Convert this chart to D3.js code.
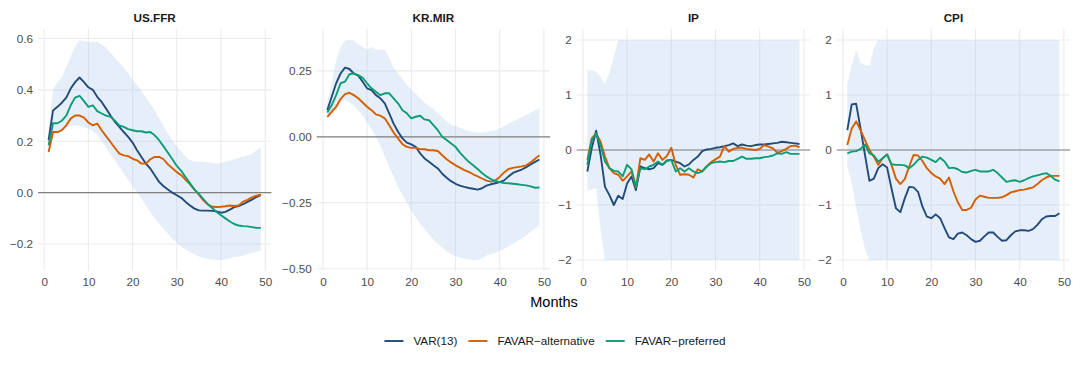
<!DOCTYPE html>
<html>
<head>
<meta charset="utf-8">
<script src="https://cdn.jsdelivr.net/npm/d3@7"></script>
<style>
  body { margin: 0; background: #fff; }
  svg { display: block; font-family: "Liberation Sans", Arial, sans-serif; }
</style>
</head>
<body>
<script>
const months = d3.range(1, 50);
const xTicks = [0, 10, 20, 30, 40, 50];

// US.FFR
const ffrVar = [0.204, 0.32, 0.334, 0.35, 0.37, 0.405, 0.43, 0.448, 0.43, 0.41,
  0.40, 0.373, 0.353, 0.327, 0.30, 0.275, 0.256, 0.236, 0.217, 0.195,
  0.165, 0.139, 0.113, 0.094, 0.068, 0.042, 0.025, 0.012, 0.0, -0.01,
  -0.02, -0.036, -0.05, -0.062, -0.069, -0.07, -0.07, -0.071, -0.073, -0.078,
  -0.075, -0.066, -0.056, -0.052, -0.045, -0.036, -0.027, -0.017, -0.01];
const ffrAlt = [0.158, 0.236, 0.236, 0.243, 0.262, 0.288, 0.30, 0.30, 0.292, 0.273,
  0.262, 0.269, 0.243, 0.22, 0.197, 0.174, 0.152, 0.145, 0.142, 0.132,
  0.126, 0.113, 0.113, 0.13, 0.139, 0.139, 0.13, 0.11, 0.095, 0.08,
  0.068, 0.05, 0.032, 0.012, -0.008, -0.03, -0.045, -0.055, -0.056, -0.055,
  -0.053, -0.05, -0.052, -0.05, -0.035, -0.028, -0.018, -0.012, -0.008];
const ffrPref = [0.184, 0.27, 0.27, 0.28, 0.30, 0.34, 0.37, 0.377, 0.356, 0.334,
  0.34, 0.317, 0.308, 0.30, 0.295, 0.28, 0.262, 0.256, 0.247, 0.243,
  0.239, 0.239, 0.234, 0.236, 0.223, 0.204, 0.18, 0.155, 0.13, 0.104,
  0.085, 0.06, 0.036, 0.012, -0.005, -0.025, -0.045, -0.06, -0.075, -0.088,
  -0.1, -0.112, -0.122, -0.128, -0.13, -0.131, -0.134, -0.137, -0.137];
const ffrHi = [0.25, 0.40, 0.43, 0.45, 0.49, 0.53, 0.57, 0.594, 0.59, 0.587,
  0.587, 0.587, 0.578, 0.565, 0.545, 0.525, 0.505, 0.485, 0.465, 0.44,
  0.42, 0.395, 0.37, 0.345, 0.32, 0.29, 0.26, 0.23, 0.205, 0.18,
  0.16, 0.14, 0.126, 0.122, 0.12, 0.12, 0.118, 0.115, 0.113, 0.115,
  0.12, 0.125, 0.13, 0.135, 0.14, 0.145, 0.15, 0.165, 0.177];
const ffrLo = [0.15, 0.22, 0.23, 0.24, 0.25, 0.26, 0.26, 0.26, 0.255, 0.25,
  0.24, 0.225, 0.2, 0.175, 0.15, 0.125, 0.1, 0.075, 0.05, 0.025,
  0.0, -0.025, -0.05, -0.075, -0.1, -0.12, -0.14, -0.16, -0.18, -0.195,
  -0.21, -0.222, -0.232, -0.24, -0.248, -0.253, -0.257, -0.26, -0.262, -0.262,
  -0.26, -0.255, -0.25, -0.248, -0.245, -0.24, -0.235, -0.23, -0.225];
const ffrTicks = [-0.2, 0, 0.2, 0.4, 0.6];

// KR.MIR
const mirVar = [0.101, 0.152, 0.203, 0.24, 0.262, 0.257, 0.24, 0.232, 0.209, 0.184,
  0.177, 0.158, 0.146, 0.127, 0.089, 0.05, 0.019, -0.006, -0.022, -0.029,
  -0.038, -0.063, -0.082, -0.095, -0.108, -0.12, -0.14, -0.155, -0.168, -0.178,
  -0.185, -0.19, -0.194, -0.197, -0.2, -0.195, -0.185, -0.18, -0.176, -0.172,
  -0.165, -0.15, -0.137, -0.13, -0.124, -0.115, -0.105, -0.095, -0.086];
const mirAlt = [0.076, 0.095, 0.114, 0.143, 0.162, 0.167, 0.158, 0.146, 0.13, 0.114,
  0.101, 0.085, 0.08, 0.07, 0.044, 0.016, -0.006, -0.028, -0.038, -0.042,
  -0.042, -0.047, -0.047, -0.051, -0.051, -0.054, -0.07, -0.085, -0.097, -0.108,
  -0.117, -0.126, -0.133, -0.142, -0.15, -0.158, -0.166, -0.17, -0.166, -0.152,
  -0.135, -0.122, -0.118, -0.115, -0.112, -0.108, -0.097, -0.083, -0.07];
const mirPref = [0.092, 0.12, 0.158, 0.203, 0.209, 0.237, 0.24, 0.234, 0.224, 0.203,
  0.184, 0.171, 0.158, 0.165, 0.165, 0.146, 0.127, 0.101, 0.089, 0.07,
  0.076, 0.08, 0.066, 0.063, 0.044, 0.025, 0.0, -0.012, -0.025, -0.038,
  -0.06, -0.078, -0.095, -0.108, -0.122, -0.137, -0.15, -0.16, -0.167, -0.172,
  -0.175, -0.176, -0.178, -0.18, -0.182, -0.184, -0.188, -0.193, -0.192];
const mirHi = [0.13, 0.21, 0.29, 0.34, 0.365, 0.367, 0.365, 0.352, 0.34, 0.33,
  0.34, 0.33, 0.33, 0.33, 0.3, 0.262, 0.24, 0.218, 0.196, 0.18,
  0.163, 0.146, 0.13, 0.118, 0.105, 0.09, 0.075, 0.058, 0.046, 0.04,
  0.034, 0.028, 0.022, 0.018, 0.015, 0.015, 0.018, 0.021, 0.025, 0.032,
  0.04, 0.05, 0.058, 0.066, 0.075, 0.083, 0.092, 0.1, 0.108];
const mirLo = [0.07, 0.09, 0.1, 0.13, 0.14, 0.13, 0.12, 0.1, 0.08, 0.055,
  0.03, 0.0, -0.035, -0.075, -0.115, -0.15, -0.19, -0.22, -0.25, -0.28,
  -0.305, -0.33, -0.35, -0.37, -0.39, -0.405, -0.42, -0.435, -0.445, -0.452,
  -0.458, -0.462, -0.465, -0.467, -0.467, -0.46, -0.45, -0.445, -0.44, -0.432,
  -0.425, -0.415, -0.405, -0.395, -0.385, -0.375, -0.36, -0.348, -0.335];
const mirTicks = [-0.5, -0.25, 0, 0.25];

// IP
const ipVar = [-0.39, 0.03, 0.35, -0.09, -0.67, -0.82, -1.0, -0.83, -0.89, -0.61,
  -0.48, -0.73, -0.3, -0.33, -0.35, -0.33, -0.24, -0.27, -0.19, -0.18,
  -0.21, -0.24, -0.3, -0.26, -0.18, -0.12, -0.02, 0.01, 0.02, 0.04,
  0.05, 0.07, 0.09, 0.12, 0.07, 0.1, 0.08, 0.07, 0.09, 0.1,
  0.1, 0.11, 0.12, 0.13, 0.15, 0.14, 0.13, 0.12, 0.11];
const ipAlt = [-0.18, 0.21, 0.3, 0.15, -0.12, -0.33, -0.42, -0.45, -0.56, -0.48,
  -0.39, -0.68, -0.15, -0.18, -0.08, -0.21, -0.06, -0.18, -0.11, 0.04,
  -0.27, -0.45, -0.44, -0.45, -0.5, -0.35, -0.39, -0.3, -0.22, -0.17,
  -0.12, 0.07, -0.03, 0.02, 0.04, 0.04, 0.02, 0.01, 0.0, 0.02,
  0.09, 0.06, 0.03, -0.05, -0.02, 0.02, 0.07, 0.08, 0.05];
const ipPref = [-0.27, 0.18, 0.3, 0.09, -0.21, -0.33, -0.38, -0.39, -0.48, -0.27,
  -0.35, -0.67, -0.33, -0.35, -0.3, -0.27, -0.21, -0.27, -0.2, -0.18,
  -0.39, -0.33, -0.39, -0.33, -0.39, -0.42, -0.39, -0.3, -0.24, -0.22,
  -0.21, -0.22, -0.2, -0.2, -0.16, -0.12, -0.16, -0.16, -0.15, -0.15,
  -0.13, -0.12, -0.1, -0.06, -0.07, -0.04, -0.07, -0.07, -0.07];
const ipHi = [1.45, 1.45, 1.42, 1.33, 1.2, 1.4, 1.7, 2, 2, 2,
  2, 2, 2, 2, 2, 2, 2, 2, 2, 2,
  2, 2, 2, 2, 2, 2, 2, 2, 2, 2,
  2, 2, 2, 2, 2, 2, 2, 2, 2, 2,
  2, 2, 2, 2, 2, 2, 2, 2, 2];
const ipLo = [-0.73, -0.72, -0.7, -1.45, -2, -2, -2, -2, -2, -2,
  -2, -2, -2, -2, -2, -2, -2, -2, -2, -2,
  -2, -2, -2, -2, -2, -2, -2, -2, -2, -2,
  -2, -2, -2, -2, -2, -2, -2, -2, -2, -2,
  -2, -2, -2, -2, -2, -2, -2, -2, -2];
const ipTicks = [-2, -1, 0, 1, 2];

// CPI
const cpiVar = [0.36, 0.83, 0.84, 0.39, -0.09, -0.56, -0.52, -0.33, -0.26, -0.32,
  -0.7, -1.06, -1.13, -0.88, -0.67, -0.68, -0.76, -1.03, -1.21, -1.24,
  -1.17, -1.24, -1.42, -1.59, -1.62, -1.52, -1.5, -1.55, -1.62, -1.67,
  -1.65, -1.57, -1.5, -1.5, -1.58, -1.65, -1.64, -1.55, -1.48, -1.46,
  -1.46, -1.47, -1.44, -1.36, -1.26, -1.21, -1.2, -1.2, -1.15];
const cpiAlt = [0.09, 0.39, 0.52, 0.36, 0.18, 0.0, -0.12, -0.27, -0.15, -0.08,
  -0.27, -0.52, -0.62, -0.53, -0.3, -0.09, -0.1, -0.2, -0.33, -0.42,
  -0.48, -0.52, -0.62, -0.5, -0.75, -0.95, -1.09, -1.09, -1.05, -0.9,
  -0.83, -0.85, -0.87, -0.87, -0.87, -0.86, -0.82, -0.77, -0.75, -0.73,
  -0.72, -0.7, -0.68, -0.62, -0.55, -0.5, -0.47, -0.47, -0.47];
const cpiPref = [-0.06, -0.03, -0.02, 0.02, 0.1, -0.06, -0.1, -0.21, -0.15, -0.08,
  -0.26, -0.27, -0.27, -0.28, -0.33, -0.27, -0.18, -0.12, -0.14, -0.18,
  -0.22, -0.14, -0.21, -0.33, -0.32, -0.35, -0.4, -0.41, -0.38, -0.36,
  -0.39, -0.39, -0.39, -0.36, -0.42, -0.5, -0.58, -0.56, -0.55, -0.58,
  -0.55, -0.51, -0.48, -0.46, -0.44, -0.42, -0.47, -0.54, -0.57];
const cpiHi = [1.2, 1.55, 1.82, 1.58, 1.55, 1.53, 1.85, 2, 2, 2,
  2, 2, 2, 2, 2, 2, 2, 2, 2, 2,
  2, 2, 2, 2, 2, 2, 2, 2, 2, 2,
  2, 2, 2, 2, 2, 2, 2, 2, 2, 2,
  2, 2, 2, 2, 2, 2, 2, 2, 2];
const cpiLo = [-0.3, -0.6, -1.05, -1.45, -1.8, -2, -2, -2, -2, -2,
  -2, -2, -2, -2, -2, -2, -2, -2, -2, -2,
  -2, -2, -2, -2, -2, -2, -2, -2, -2, -2,
  -2, -2, -2, -2, -2, -2, -2, -2, -2, -2,
  -2, -2, -2, -2, -2, -2, -2, -2, -2];
const cpiTicks = [-2, -1, 0, 1, 2];

const seriesNames = ["VAR(13)", "FAVAR\u2212alternative", "FAVAR\u2212preferred"];
const COLORS = ["#224b7a", "#d55e00", "#0b9e74"];

const PANELS = [
  { title: "US.FFR", left: 38, ticks: ffrTicks, fmt: ".1f", lo: ffrLo, hi: ffrHi, series: [ffrVar, ffrAlt, ffrPref] },
  { title: "KR.MIR", left: 316.7, ticks: mirTicks, fmt: ".2f", lo: mirLo, hi: mirHi, series: [mirVar, mirAlt, mirPref] },
  { title: "IP", left: 576.7, ticks: ipTicks, fmt: "d", lo: ipLo, hi: ipHi, series: [ipVar, ipAlt, ipPref] },
  { title: "CPI", left: 836.7, ticks: cpiTicks, fmt: "d", lo: cpiLo, hi: cpiHi, series: [cpiVar, cpiAlt, cpiPref] },
];

const WIDTH = 1080;
const HEIGHT = 366;
const PANEL_W = 233.4;
const TOP = 29;
const BOTTOM = 271;

const svg = d3.select("body").append("svg").attr("width", WIDTH).attr("height", HEIGHT);

PANELS.forEach((p) => {
  const xExt = d3.extent(months);
  const xPad = (xExt[1] - xExt[0]) * 0.05;
  const x = d3.scaleLinear().domain([xExt[0] - xPad, xExt[1] + xPad]).range([p.left, p.left + PANEL_W]);
  const yMin = d3.min(p.lo.concat(...p.series));
  const yMax = d3.max(p.hi.concat(...p.series));
  const yPad = (yMax - yMin) * 0.05;
  const y = d3.scaleLinear().domain([yMin - yPad, yMax + yPad]).range([BOTTOM, TOP]);

  const g = svg.append("g");

  // grid
  g.selectAll(".gy").data(p.ticks).enter().append("line")
    .attr("x1", p.left).attr("x2", p.left + PANEL_W)
    .attr("y1", (d) => y(d)).attr("y2", (d) => y(d))
    .attr("stroke", "#ebebeb").attr("stroke-width", 1.1);
  g.selectAll(".gx").data(xTicks).enter().append("line")
    .attr("x1", (d) => x(d)).attr("x2", (d) => x(d))
    .attr("y1", TOP).attr("y2", BOTTOM)
    .attr("stroke", "#ebebeb").attr("stroke-width", 1.1);

  // confidence band
  const area = d3.area()
    .x((d, i) => x(months[i]))
    .y0((d, i) => y(p.lo[i]))
    .y1((d, i) => y(p.hi[i]));
  g.append("path").datum(p.lo).attr("d", area)
    .attr("fill", "#b3cdee").attr("fill-opacity", 0.33);

  // zero line
  g.append("line")
    .attr("x1", p.left).attr("x2", p.left + PANEL_W)
    .attr("y1", y(0)).attr("y2", y(0))
    .attr("stroke", "#808080").attr("stroke-width", 1.2);

  const line = d3.line().x((d, i) => x(months[i])).y((d) => y(d));
  p.series.forEach((s, k) => {
    g.append("path").datum(s).attr("d", line)
      .attr("fill", "none").attr("stroke", COLORS[k])
      .attr("stroke-width", 1.9).attr("stroke-linejoin", "round");
  });

  // axes labels
  const yAxis = d3.axisLeft(y).tickValues(p.ticks).tickFormat(d3.format(p.fmt)).tickSize(0).tickPadding(5);
  const xAxis = d3.axisBottom(x).tickValues(xTicks).tickSize(0).tickPadding(7);
  const ya = g.append("g").attr("transform", `translate(${p.left},0)`).call(yAxis);
  const xa = g.append("g").attr("transform", `translate(0,${BOTTOM})`).call(xAxis);
  [ya, xa].forEach((a) => {
    a.select(".domain").remove();
    a.selectAll("text").attr("fill", "#4d4d4d").style("font-size", "11.7px")
      .style("font-family", "'Liberation Sans', Arial, sans-serif");
  });

  g.append("text")
    .attr("x", p.left + PANEL_W / 2).attr("y", 22)
    .attr("text-anchor", "middle")
    .style("font-size", "11.7px").style("font-weight", "bold")
    .attr("fill", "#1a1a1a")
    .text(p.title);
});

svg.append("text")
  .attr("x", (38 + 836.7 + PANEL_W) / 2).attr("y", 306.5)
  .attr("text-anchor", "middle")
  .style("font-size", "14.5px")
  .attr("fill", "#000")
  .text("Months");

// legend
const legend = svg.append("g");
let cx = 0;
seriesNames.forEach((name, i) => {
  const item = legend.append("g").attr("transform", `translate(${cx},0)`);
  item.append("line").attr("x1", 0).attr("x2", 19).attr("y1", 0).attr("y2", 0)
    .attr("stroke", COLORS[i]).attr("stroke-width", 1.9);
  const t = item.append("text").attr("x", 29).attr("y", 4.2)
    .style("font-size", "11.7px").attr("fill", "#1a1a1a").text(name);
  cx += 29 + t.node().getComputedTextLength() + 11;
});
const legW = cx - 11;
legend.attr("transform", `translate(${555 - legW / 2},341)`);
</script>
</body>
</html>
